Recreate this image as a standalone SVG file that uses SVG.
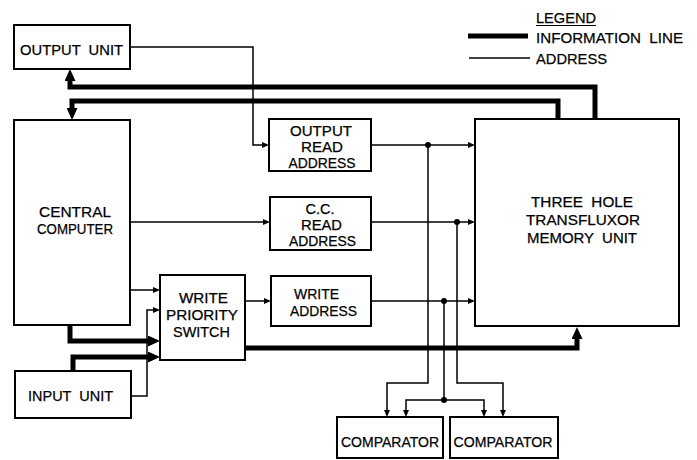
<svg xmlns="http://www.w3.org/2000/svg" width="697" height="460" viewBox="0 0 697 460">
<style>
.box{fill:#fff;stroke:#000;stroke-width:2}
text{font-family:"Liberation Sans",Arial,sans-serif;font-size:15px;fill:#000;text-anchor:middle;stroke:#000;stroke-width:0.25}
.leg{text-anchor:start}
.addr{fill:none;stroke:#000;stroke-width:1.5}
.info{fill:none;stroke:#000;stroke-width:5;stroke-linejoin:miter}
.dot{fill:#000}
</style>
<defs>
<marker id="ta" markerUnits="userSpaceOnUse" viewBox="0 0 7 6" refX="1" refY="3" markerWidth="7" markerHeight="6" orient="auto"><path d="M0,0 L7,3 L0,6 z" fill="#000"/></marker>
<marker id="tb" markerUnits="userSpaceOnUse" viewBox="0 0 12 11" refX="2" refY="5.5" markerWidth="12" markerHeight="11" orient="auto"><path d="M0,0 L12,5.5 L0,11 z" fill="#000"/></marker>
</defs>

<g id="legend">
<text class="leg" x="536" y="23" textLength="60" lengthAdjust="spacingAndGlyphs">LEGEND</text>
<line x1="536" y1="25.5" x2="596" y2="25.5" stroke="#000" stroke-width="1.2"/>
<line class="info" x1="468" y1="36" x2="528" y2="36"/>
<text class="leg" x="536" y="43" textLength="147" lengthAdjust="spacingAndGlyphs" xml:space="preserve">INFORMATION  LINE</text>
<line class="addr" x1="469" y1="58" x2="530" y2="58"/>
<text class="leg" x="536" y="64" textLength="71" lengthAdjust="spacingAndGlyphs">ADDRESS</text>
</g>

<g id="connectors">
<path class="addr" d="M130,47 H253 V145 H263" marker-end="url(#ta)"/>
<path class="addr" d="M371,145 H469" marker-end="url(#ta)"/>
<path class="addr" d="M130,222 H264" marker-end="url(#ta)"/>
<path class="addr" d="M371,222 H469" marker-end="url(#ta)"/>
<path class="addr" d="M130,290 H154" marker-end="url(#ta)"/>
<path class="addr" d="M131,396 H147 V310 H154" marker-end="url(#ta)"/>
<path class="addr" d="M245,301 H265" marker-end="url(#ta)"/>
<path class="addr" d="M371,301 H469" marker-end="url(#ta)"/>
<path class="addr" d="M428,145 V383 H387 V411" marker-end="url(#ta)"/>
<path class="addr" d="M457,222 V383 H503 V411" marker-end="url(#ta)"/>
<path class="addr" d="M444,301 V400 H406 V411" marker-end="url(#ta)"/>
<path class="addr" d="M444,400 H484 V411" marker-end="url(#ta)"/>
<circle class="dot" cx="428" cy="145" r="3"/>
<circle class="dot" cx="457" cy="222" r="3"/>
<circle class="dot" cx="444" cy="301" r="3"/>
<circle class="dot" cx="444" cy="400" r="3"/>
<path class="info" d="M595,119 V87 H70 V79" marker-end="url(#tb)"/>
<path class="info" d="M558,119 V101 H72 V110" marker-end="url(#tb)"/>
<path class="info" d="M70,325 V341 H150" marker-end="url(#tb)"/>
<path class="info" d="M73,371 V357 H150" marker-end="url(#tb)"/>
<path class="info" d="M245,348 H577 V337" marker-end="url(#tb)"/>
</g>

<g id="output-unit">
<rect class="box" x="14" y="25" width="116" height="44"/>
<text x="71.5" y="55" textLength="103" lengthAdjust="spacingAndGlyphs" xml:space="preserve">OUTPUT  UNIT</text>
</g>

<g id="central-computer">
<rect class="box" x="14" y="120" width="116" height="205"/>
<text x="75" y="217" textLength="72" lengthAdjust="spacingAndGlyphs">CENTRAL</text>
<text x="75" y="234" textLength="76" lengthAdjust="spacingAndGlyphs">COMPUTER</text>
</g>

<g id="input-unit">
<rect class="box" x="15" y="371" width="116" height="47"/>
<text x="70.5" y="401" textLength="85" lengthAdjust="spacingAndGlyphs" xml:space="preserve">INPUT  UNIT</text>
</g>

<g id="output-read-address">
<rect class="box" x="269" y="119" width="102" height="52"/>
<text x="321" y="136" textLength="62" lengthAdjust="spacingAndGlyphs">OUTPUT</text>
<text x="322" y="152" textLength="42" lengthAdjust="spacingAndGlyphs">READ</text>
<text x="322" y="168" textLength="67" lengthAdjust="spacingAndGlyphs">ADDRESS</text>
</g>

<g id="cc-read-address">
<rect class="box" x="270" y="197" width="101" height="53"/>
<text x="320" y="214" textLength="29" lengthAdjust="spacingAndGlyphs">C.C.</text>
<text x="321.5" y="230" textLength="41" lengthAdjust="spacingAndGlyphs">READ</text>
<text x="322.5" y="246" textLength="67" lengthAdjust="spacingAndGlyphs">ADDRESS</text>
</g>

<g id="write-address">
<rect class="box" x="271" y="276" width="100" height="50"/>
<text x="316.5" y="299" textLength="45" lengthAdjust="spacingAndGlyphs">WRITE</text>
<text x="323.5" y="316" textLength="67" lengthAdjust="spacingAndGlyphs">ADDRESS</text>
</g>

<g id="write-priority-switch">
<rect class="box" x="160" y="275" width="85" height="85"/>
<text x="203.5" y="303" textLength="49" lengthAdjust="spacingAndGlyphs">WRITE</text>
<text x="202" y="320" textLength="72" lengthAdjust="spacingAndGlyphs">PRIORITY</text>
<text x="201.5" y="337" textLength="57" lengthAdjust="spacingAndGlyphs">SWITCH</text>
</g>

<g id="memory-unit">
<rect class="box" x="475" y="119" width="204" height="207"/>
<text x="582" y="207" textLength="102" lengthAdjust="spacingAndGlyphs" xml:space="preserve">THREE  HOLE</text>
<text x="583" y="225" textLength="114" lengthAdjust="spacingAndGlyphs">TRANSFLUXOR</text>
<text x="582" y="243" textLength="110" lengthAdjust="spacingAndGlyphs" xml:space="preserve">MEMORY  UNIT</text>
</g>

<g id="comparator-1">
<rect class="box" x="337" y="417" width="106" height="41"/>
<text x="390" y="447" textLength="98" lengthAdjust="spacingAndGlyphs">COMPARATOR</text>
</g>

<g id="comparator-2">
<rect class="box" x="450" y="417" width="108" height="41"/>
<text x="503" y="447" textLength="99" lengthAdjust="spacingAndGlyphs">COMPARATOR</text>
</g>
</svg>
